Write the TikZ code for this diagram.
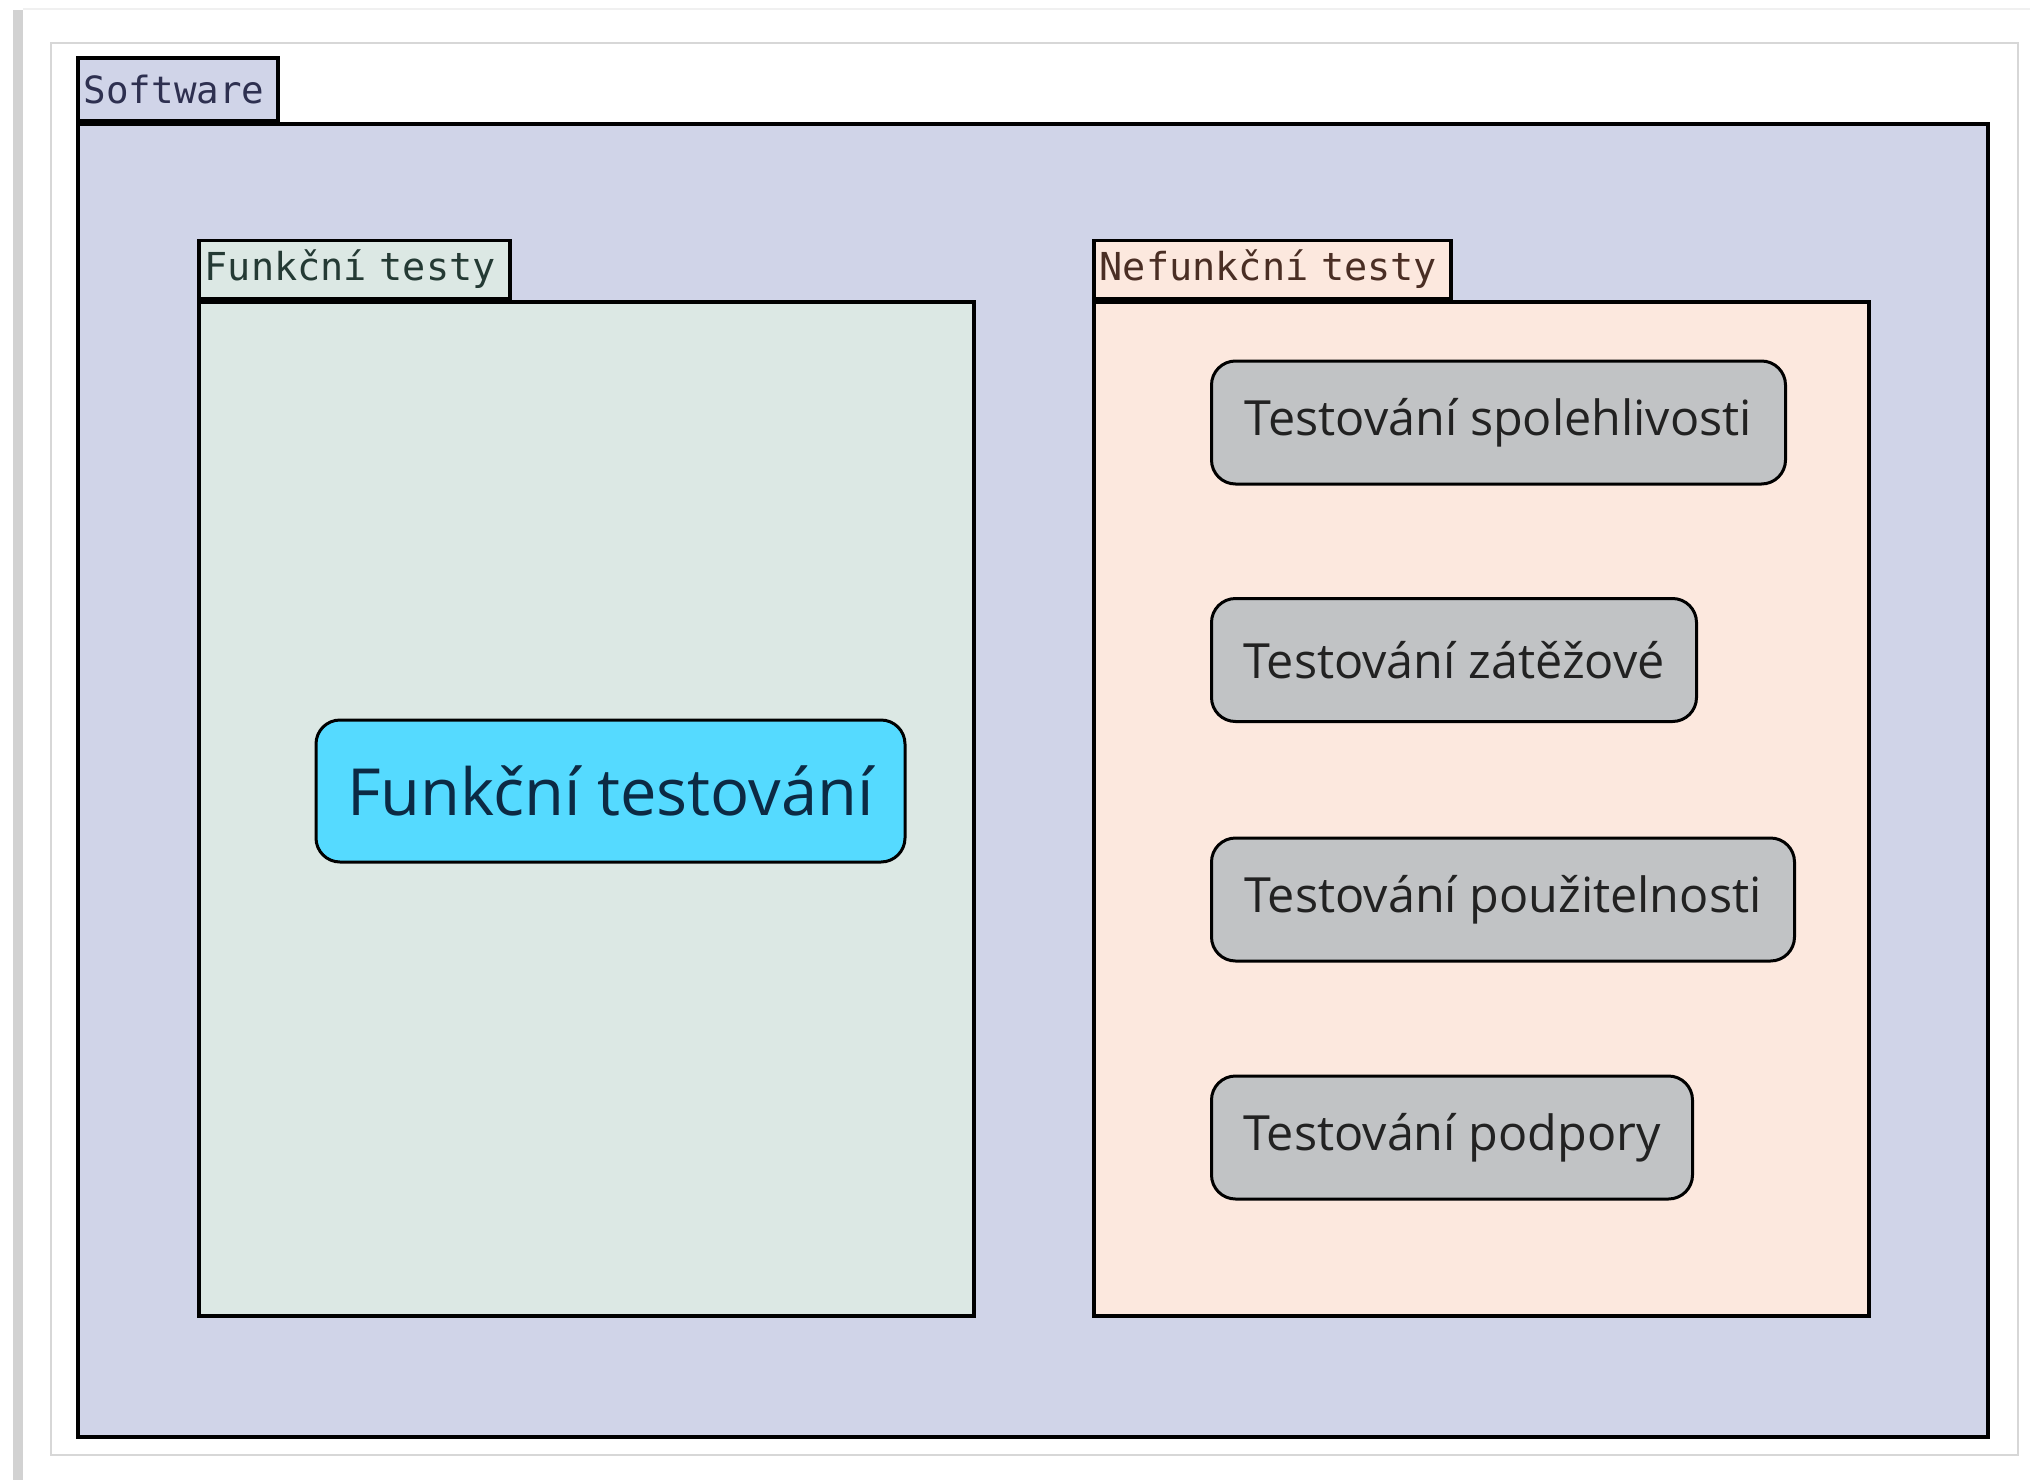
\documentclass[tikz,border=0pt]{standalone}
\usepackage{fontspec}
\setmainfont{Open Sans}
\setmonofont{DejaVu Sans Mono}
\begin{document}
\begin{tikzpicture}[x=1pt,y=-1pt,
  pkg/.style={draw=black,line width=3.5pt,anchor=north west,inner sep=0pt},
  pkgtab/.style={pkg,font=\ttfamily\fontsize{38.5}{40}\selectfont,align=left,
    inner xsep=6pt,anchor=south west},
  uc/.style={draw=black,line width=3pt,rounded corners=24pt,inner sep=0pt,
    font=\fontsize{48.5}{56}\selectfont},
  ucgray/.style={uc,fill=ucgrey,text=textgrey,anchor=west,minimum height=123pt}]
\definecolor{swfill}{HTML}{D0D4E8}
\definecolor{swtext}{HTML}{2E3050}
\definecolor{ftfill}{HTML}{DCE8E4}
\definecolor{fttext}{HTML}{243A34}
\definecolor{nffill}{HTML}{FCE8DE}
\definecolor{nftext}{HTML}{4A2E24}
\definecolor{ucblue}{HTML}{55DAFF}
\definecolor{ucbluetext}{HTML}{0C2A44}
\definecolor{ucgrey}{HTML}{C1C3C5}
\definecolor{textgrey}{HTML}{222222}
\definecolor{edge}{HTML}{BDBDBD}

% canvas
\useasboundingbox (0,0) rectangle (2030,1480);
\fill[white] (0,0) rectangle (2030,1480);
\fill[gray!35] (13,10) rectangle (23,1480);
\draw[gray!12,line width=2pt] (23,9) -- (2030,9);
\draw[edge!60,line width=2pt,fill=white] (51,43) rectangle (2018,1455);

% Software package
\node[pkg,fill=swfill,minimum width=1910pt,minimum height=1313pt] (sw) at (76,122) {};
\node[pkgtab,fill=swfill,text=swtext,font=\ttfamily\fontsize{37.5}{40}\selectfont,
  text width=188pt,minimum height=62pt] (swtab) at (sw.north west) {Software};

% Funkcni testy package
\node[pkg,fill=ftfill,minimum width=775pt,minimum height=1014pt] (ft) at (197,300) {};
\node[pkgtab,fill=ftfill,text=fttext,text width=299pt,minimum height=58pt]
  (fttab) at (ft.north west) {Funkční testy};

% Nefunkcni testy package
\node[pkg,fill=nffill,minimum width=775pt,minimum height=1014pt] (nf) at (1092,300) {};
\node[pkgtab,fill=nffill,text=nftext,text width=345pt,minimum height=58pt]
  (nftab) at (nf.north west) {Nefunkční testy};

% use cases
\node[uc,fill=ucblue,text=ucbluetext,font=\fontsize{65}{72}\selectfont,
  minimum width=589pt,minimum height=142pt] (fto) at (610.5,791) {Funkční testování};

\node[ucgray,minimum width=574pt] (spol) at (1210,422.5) {Testování spolehlivosti};
\node[ucgray,minimum width=485pt] (zat) at (1210,660) {Testování zátěžové};
\node[ucgray,minimum width=583pt] (pouz) at (1210,899.5) {Testování použitelnosti};
\node[ucgray,minimum width=481pt] (podp) at (1210,1137.5) {Testování podpory};
\end{tikzpicture}
\end{document}
